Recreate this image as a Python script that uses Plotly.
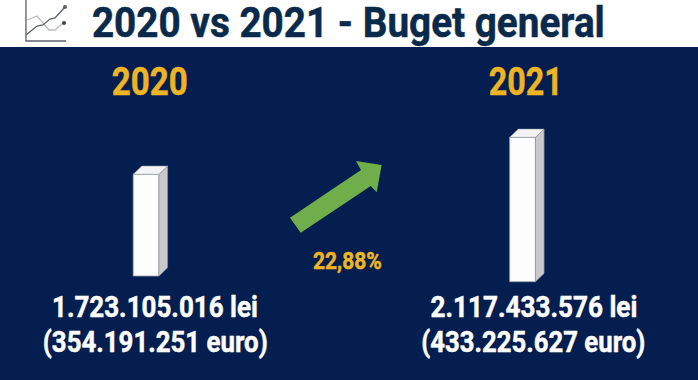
import json
import plotly.graph_objects as go

W, H = 698, 380
years = ["2020", "2021"]
budget_lei = [1723105016, 2117433576]
bar_base = [639000000, 578500000]
labels_lei = ["1.723.105.016 lei", "2.117.433.576 lei"]
labels_eur = ["(354.191.251 euro)", "(433.225.627 euro)"]
growth_label = "22,88%"
title = "2020 vs 2021 - Buget general"

NAVY, GOLD, INK, GREEN = "#051e50", "#edb424", "#0a2a4c", "#6fae4b"
FONT = "Roboto, sans-serif"

# axis scale: index 0 / 1 are the two bars; y is in lei
X_LOW, X_HIGH = -0.388, 1.466
Y_LOW, Y_HIGH = -469.1e6, 3580.7e6
BAR_W, DX, DY = 0.0685, 0.0228, 88e6


def px(x):
    return x / W


def py(y):
    return 1 - y / H


def poly(points):
    return "M" + " L".join(f"{px(x):.4f},{py(y):.4f}" for x, y in points) + " Z"


def polyline(points):
    return "M" + " L".join(f"{px(x):.4f},{py(y):.4f}" for x, y in points)


def icon_line(points, color, width):
    return dict(type="path", xref="paper", yref="paper", line=dict(color=color, width=width),
                path=polyline(points))


def icon_dot(x, y, color):
    return dict(type="circle", xref="paper", yref="paper", fillcolor=color, line_width=0,
                x0=px(x - 2), x1=px(x + 2), y0=py(y + 2), y1=py(y - 2))


fig = go.Figure()
xs = list(range(len(years)))
for i, v in enumerate(budget_lei):
    b = bar_base[i]
    l, r = i - BAR_W / 2, i + BAR_W / 2
    fig.add_trace(go.Scatter(
        x=[r, r + DX, r + DX, r, r], y=[v, v + DY, b + DY, b, v], mode="lines",
        fill="toself", fillcolor="#c9c9cb", line=dict(color="#8f939c", width=0.7),
        hoverinfo="skip", showlegend=False))
    fig.add_trace(go.Scatter(
        x=[l, l + DX, r + DX, r, l], y=[v, v + DY, v + DY, v, v], mode="lines",
        fill="toself", fillcolor="#f3f3f3", line=dict(color="#8f939c", width=0.5),
        hoverinfo="skip", showlegend=False))
fig.add_trace(go.Bar(
    x=xs, y=[v - b for v, b in zip(budget_lei, bar_base)], base=bar_base, width=BAR_W,
    marker=dict(color="#fdfdfd", line=dict(color="#9a9da5", width=0.8)), showlegend=False))

shapes = [
    dict(type="rect", xref="paper", yref="paper", x0=0, x1=1, y0=py(47), y1=1,
         fillcolor="white", line_width=0, layer="below"),
    dict(type="path", xref="paper", yref="paper", fillcolor=GREEN, line_width=0,
         path=poly([(290, 217.7), (300.7, 232.7), (370.7, 186), (376.7, 192.3),
                    (381.7, 165), (356, 161), (361, 170)])),
    icon_line([(26, 0), (26, 41), (66, 41)], "#5a6068", 1.3),
    icon_line([(27, 20), (37, 16), (49, 30), (55, 30), (63, 23)], "#bcbcbc", 1.3),
    icon_line([(26, 35), (37, 26), (43, 25), (50, 19), (55, 18), (65, 7)], "#5a6068", 1.3),
    icon_dot(65, 7, "#5a6068"),
    icon_dot(64, 23, "#3c424a"),
]

widths = {}


def text(s, x, y, size, color, width):
    widths[s] = width
    return dict(text=f"<b>{s}</b>", x=px(x), y=py(y), xref="paper", yref="paper", showarrow=False,
                xanchor="center", yanchor="middle", font=dict(family=FONT, size=size, color=color))


annotations = [
    text(title, 348, 23, 42, INK, 513),
    text(years[0], 150, 82, 39, GOLD, 76),
    text(years[1], 525.5, 82, 39, GOLD, 74),
    text(labels_lei[0], 155, 307, 29, "white", 206),
    text(labels_eur[0], 155.5, 342, 29, "white", 225),
    text(labels_lei[1], 533.5, 307, 29, "white", 207),
    text(labels_eur[1], 533, 342, 29, "white", 224),
    text(growth_label, 347.5, 261, 24, GOLD, 69),
]

fig.update_layout(
    width=W, height=H, margin=dict(l=0, r=0, t=0, b=0),
    paper_bgcolor=NAVY, plot_bgcolor=NAVY, showlegend=False,
    shapes=shapes, annotations=annotations,
    xaxis=dict(range=[X_LOW, X_HIGH], visible=False, fixedrange=True),
    yaxis=dict(range=[Y_LOW, Y_HIGH], visible=False, fixedrange=True),
)

# The reference lettering is condensed: squeeze each real text to its measured width.
post = """
document.body.style.margin = '0';
document.body.style.background = '%s';
var widths = %s;
document.querySelectorAll('.annotation-text').forEach(function (t) {
  var w = widths[t.textContent];
  if (!w) return;
  var b = t.getBBox(), c = b.x + b.width / 2;
  t.setAttribute('transform', 'translate(' + c + ',0) scale(' + (w / b.width) + ',1) translate(' + (-c) + ',0)');
  t.style.stroke = t.style.fill;
  t.style.strokeWidth = '0.5px';
  var p = t.closest('.annotation');
  if (p) p.querySelectorAll('[clip-path]').forEach(function (e) { e.removeAttribute('clip-path'); });
});
""" % (NAVY, json.dumps(widths))

fig.write_html("out.html", config={"displayModeBar": False}, post_script=post)
